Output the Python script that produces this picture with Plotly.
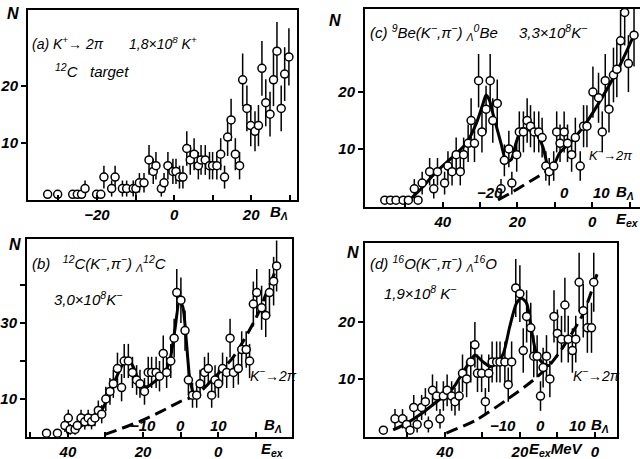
import plotly.graph_objects as go

# ---------------- (a) K+ -> 2pi, 12C target : x = B_Lambda (MeV) ----------------
a_b = [-32.8, -30.2, -26.3, -25.1, -24.0, -23.1, -20.1, -19.0, -18.2, -16.2,
       -15.3, -13.4, -12.3, -10.6, -9.9, -9.0, -7.8, -6.5, -5.4, -4.7,
       -3.3, -2.6, -1.6, -0.3, 0.5, 1.4, 2.3, 3.3, 4.2, 5.2,
       6.3, 7.0, 8.1, 9.2, 10.0, 11.1, 12.1, 13.1, 13.9, 14.8,
       15.9, 17.0, 17.8, 18.9, 19.9, 21.0, 21.9, 22.8, 23.8, 24.9,
       25.8, 26.7, 27.8, 28.7, 29.8]
a_n = [1, 1, 1, 1, 1, 2, 1, 1, 4, 2,
       4, 2, 2, 2, 2, 3, 3, 7, 5, 6,
       2, 3, 6, 5, 5, 4, 4, 9, 7, 8,
       6, 7, 7, 6, 6, 6, 8, 4, 11, 14,
       8, 6, 21, 16, 13, 12, 13, 23, 17, 15,
       21, 26, 16, 22, 25]
a_err = [0, 0, 0, 0, 0, 1.4, 0, 0, 2.0, 1.4,
         2.0, 1.4, 1.4, 1.4, 1.4, 1.7, 1.7, 2.6, 2.2, 2.4,
         1.4, 1.7, 2.4, 2.2, 2.2, 2.0, 2.0, 3.0, 2.6, 2.8,
         2.4, 2.6, 2.6, 2.4, 2.4, 2.4, 2.8, 2.0, 3.3, 3.7,
         2.8, 2.4, 4.6, 4.0, 3.6, 3.5, 3.6, 4.8, 4.1, 3.9,
         4.6, 5.1, 4.0, 4.7, 5.0]

# ---------------- (b) 12C(K-,pi-) : x = E_ex (MeV) ----------------
b_e = [45.7, 42.8, 40.8, 39.9, 39.4, 38.1, 37.5, 36.5, 35.5, 34.6,
       33.7, 32.8, 31.9, 31.0, 29.9, 28.8, 27.9, 26.8, 25.7, 25.0,
       23.9, 22.8, 21.7, 20.8, 19.6, 18.6, 17.7, 16.5, 15.6, 14.6,
       13.7, 12.6, 11.7, 11.0, 9.9, 8.8, 7.9, 6.8, 5.7, 4.8,
       3.6, 2.6, 1.7, 0.8, -0.1, -1.2, -2.3, -3.2, -4.1, -5.4,
       -6.3, -7.5, -8.4, -9.4, -10.3, -11.6, -12.7, -13.7, -14.8, -15.6]
b_n = [1, 1, 3, 5, 2, 2, 3, 5, 4, 5,
       4, 5, 7, 6, 10, 12, 14, 18, 13, 20,
       20, 17, 15, 14, 12, 17, 17, 17, 16, 22,
       17, 20, 26, 38, 36, 28, 15, 11, 11, 14,
       17, 18, 11, 15, 14, 18, 17, 26, 17, 18,
       23, 23, 20, 35, 38, 34, 32, 38, 41, 45]
b_err = [0, 0, 1.7, 2.2, 1.4, 1.4, 1.7, 2.2, 2.0, 2.2,
         2.0, 2.2, 2.6, 2.4, 3.2, 3.5, 3.7, 4.2, 3.6, 4.5,
         4.5, 4.1, 3.9, 3.7, 3.5, 4.1, 4.1, 4.1, 4.0, 4.7,
         4.1, 4.5, 5.1, 6.2, 6.0, 5.3, 3.9, 3.3, 3.3, 3.7,
         4.1, 4.2, 3.3, 3.9, 3.7, 4.2, 4.1, 5.1, 4.1, 4.2,
         4.8, 4.8, 4.5, 5.9, 6.2, 5.8, 5.7, 6.2, 6.4, 6.7]
b_fit_e = [40.4, 36.8, 33.2, 31.0, 28.8, 27.0, 25.2, 23.9, 22.6, 20.8,
           19.0, 16.4, 14.1, 12.8, 11.5, 10.3, 9.4, 8.4, 7.5, 6.6]
b_fit_n = [1.0, 2.7, 4.9, 7.1, 11.5, 15.9, 19.4, 20.3, 18.5, 14.1,
           13.2, 15.0, 17.2, 20.3, 28.2, 35.6, 34.3, 24.6, 15.0, 11.5]
b_bg_e = [30.1, 25.0, 19.9, 15.0, 10.1, 5.7, 1.2, -4.1, -10.3, -13.0, -16.1]
b_bg_n = [0.7, 2.5, 4.5, 6.8, 9.3, 11.1, 15.4, 21.1, 31.7, 38.2, 45.7]

# ---------------- (c) 9Be(K-,pi-) : x = E_ex (MeV) ----------------
c_e = [55.5, 54.0, 52.5, 50.6, 49.2, 47.6, 46.6, 45.5, 43.5, 42.4,
       41.4, 39.5, 38.6, 37.5, 36.4, 35.3, 34.4, 33.2, 32.4, 31.5,
       30.4, 29.5, 28.4, 27.3, 26.6, 25.4, 24.4, 23.5, 22.3, 21.5,
       20.2, 19.5, 18.4, 17.4, 16.5, 15.5, 14.3, 13.4, 12.4, 11.5,
       10.3, 9.5, 8.6, 7.5, 6.6, 5.5, 4.5, 3.2, 2.3, 1.4,
       -0.2, -1.7, -2.7, -3.5, -4.5, -5.7, -6.6, -7.6, -8.7, -9.7,
       -11.2]
c_n = [1, 1, 1, 1, 1, 3, 1, 4, 6, 3,
       6, 4, 7, 6, 9, 6, 9, 11, 15, 11,
       22, 13, 17, 22, 15, 18, 3, 8, 10, 4,
       9, 13, 13, 15, 14, 13, 13, 12, 7, 6,
       7, 13, 11, 13, 11, 9, 12, 7, 14, 14,
       20, 19, 13, 22, 17, 23, 24, 29, 34, 25,
       30]
c_err = [0, 0, 0, 0, 0, 1.7, 0, 2.0, 2.4, 1.7,
         2.4, 2.0, 2.6, 2.4, 3.0, 2.4, 3.0, 3.3, 3.9, 3.3,
         4.7, 3.6, 4.1, 4.7, 3.9, 4.2, 1.7, 2.8, 3.2, 2.0,
         3.0, 3.6, 3.6, 3.9, 3.7, 3.6, 3.6, 3.5, 2.6, 2.4,
         2.6, 3.6, 3.3, 3.6, 3.3, 3.0, 3.5, 2.6, 3.7, 3.7,
         4.5, 4.4, 3.6, 4.7, 4.1, 4.8, 4.9, 5.4, 5.8, 5.0,
         5.5]
c_fit_e = [49.2, 46.1, 41.7, 37.2, 33.7, 31.0, 29.2, 28.4, 27.5, 26.6,
           24.4, 23.0, 21.7, 20.4, 19.5, 18.6, 16.8, 15.0, 13.2, 11.5,
           10.6, 8.8, 5.2, 1.7, -2.8, -7.2, -11.5]
c_fit_n = [0.9, 2.8, 6.0, 8.7, 11.0, 14.5, 18.0, 19.5, 18.6, 16.3,
           11.0, 7.8, 8.1, 11.0, 12.7, 13.6, 13.3, 12.7, 10.4, 6.3,
           6.6, 9.2, 11.6, 14.5, 19.2, 24.4, 30.5]
c_bg_e = [25.2, 21.2, 15.9, 11.5]
c_bg_n = [1.05, 2.5, 4.6, 6.3]

# ---------------- (d) 16O(K-,pi-) : x = E_ex (MeV) ----------------
d_e = [56.4, 53.3, 51.3, 50.2, 49.3, 48.3, 47.4, 46.2, 45.2, 44.4,
       43.3, 42.2, 41.3, 40.4, 39.4, 38.2, 37.3, 36.2, 35.3, 34.2,
       33.1, 32.0, 31.3, 30.2, 29.2, 28.3, 27.4, 26.2, 25.3, 24.0,
       23.1, 22.2, 21.1, 20.0, 19.1, 18.2, 17.1, 16.3, 15.4, 14.5,
       13.8, 12.9, 12.0, 10.9, 10.0, 8.9, 8.0, 7.1, 6.0, 5.1,
       4.2, 3.1, 2.0, 0.9, 0.3]
d_n = [1, 3, 3, 2, 1, 5, 2, 5, 6, 2,
       8, 7, 3, 7, 8, 7, 6, 7, 11, 10,
       13, 16, 11, 11, 6, 11, 13, 13, 13, 13,
       9, 13, 26, 25, 15, 21, 19, 14, 14, 7,
       12, 14, 10, 21, 18, 17, 23, 17, 15, 17,
       27, 22, 19, 19, 27]
d_err = [0, 1.7, 1.7, 1.4, 0, 2.2, 1.4, 2.2, 2.4, 1.4,
         2.8, 2.6, 1.7, 2.6, 2.8, 2.6, 2.4, 2.6, 3.3, 3.2,
         3.6, 4.0, 3.3, 3.3, 2.4, 3.3, 3.6, 3.6, 3.6, 3.6,
         3.0, 3.6, 5.1, 5.0, 3.9, 4.6, 4.4, 3.7, 3.7, 2.6,
         3.5, 3.7, 3.2, 4.6, 4.2, 4.1, 4.8, 4.1, 3.9, 4.1,
         5.2, 4.7, 4.4, 4.4, 5.2]
d_fit_e = [53.8, 50.2, 46.7, 42.2, 37.8, 35.1, 33.3, 32.0, 29.8, 28.0,
           26.2, 24.4, 22.7, 20.9, 19.6, 18.2, 16.9, 15.6, 13.8, 12.0]
d_fit_n = [1.05, 2.2, 3.7, 6.0, 8.4, 11.3, 13.0, 14.2, 13.0, 12.2,
           12.7, 14.5, 19.2, 23.3, 24.2, 23.3, 18.6, 14.5, 12.7, 12.3]
d_bg_e = [39.6, 31.6, 23.6, 16.4, 12.0, 8.4, 3.1, -0.9]
d_bg_n = [0.5, 2.8, 6.3, 9.8, 12.5, 15.7, 21.5, 29.1]

# B_Lambda = shift - E_ex for each hypernucleus
b_shift, c_shift, d_shift = 10.0, 7.4, 14.6

W, H = 640, 459
FAM = "Liberation Sans"


def fx(px):
    return px / W


def fy(py):
    return 1 - py / H


fig = go.Figure()


def points(x, n, err, ax):
    fig.add_trace(go.Scatter(
        x=x, y=n, mode="markers", xaxis="x" + ax, yaxis="y" + ax,
        showlegend=False, cliponaxis=False,
        marker=dict(symbol="circle", size=8, color="white",
                    line=dict(color="black", width=1.5)),
        error_y=dict(type="data", array=err, visible=True, thickness=1.5,
                     width=0, color="black")))


def curve(x, n, ax, dash="solid", width=3):
    fig.add_trace(go.Scatter(
        x=x, y=n, mode="lines", xaxis="x" + ax, yaxis="y" + ax,
        showlegend=False, cliponaxis=False,
        line=dict(color="black", width=width, dash=dash, shape="spline",
                  smoothing=0.7)))


# curves first so the open circles sit on top
curve(b_fit_e, b_fit_n, "3")
curve(b_bg_e, b_bg_n, "3", dash="12px,6px")
curve(c_fit_e, c_fit_n, "2")
curve(c_bg_e, c_bg_n, "2", dash="12px,6px")
curve(d_fit_e, d_fit_n, "4")
curve(d_bg_e, d_bg_n, "4", dash="12px,6px")

points(a_b, a_n, a_err, "")
points(c_e, c_n, c_err, "2")
points(b_e, b_n, b_err, "3")
points(d_e, d_n, d_err, "4")

tickfont = dict(family=FAM, size=15, color="black", weight="bold", style="italic")


def xax(domain, rng, vals, texts, anchor, mirror=True):
    return dict(domain=domain, range=rng, anchor=anchor, showgrid=False,
                zeroline=False, showline=True, linecolor="black", linewidth=2,
                mirror=mirror, ticks="inside", ticklen=5, tickwidth=1.5,
                tickcolor="black", tickvals=vals, ticktext=texts,
                tickfont=tickfont)


def yax(domain, rng, vals, texts, anchor, mirror=True):
    return dict(domain=domain, range=rng, anchor=anchor, showgrid=False,
                zeroline=False, showline=True, linecolor="black", linewidth=2,
                mirror=mirror, ticks="outside", ticklen=5, tickwidth=1.5,
                tickcolor="black", tickvals=vals, ticktext=texts,
                tickfont=tickfont)


ex_vals = [50, 40, 30, 20, 10, 0, -10]
ex_text = ["", "40", "", "20", "", "0", ""]

fig.update_layout(
    width=W, height=H, margin=dict(l=0, r=0, t=0, b=0),
    paper_bgcolor="white", plot_bgcolor="white",
    # (a)
    xaxis=xax([fx(28), fx(297)], [-37.9, 31.9],
              [-30, -20, -10, 0, 10, 20, 30],
              ["", "\u221220", "", "0", "", "20", ""], "y"),
    yaxis=yax([fy(200), fy(10)], [0, 33.2], [10, 20], ["10", "20"], "x"),
    # (c)
    xaxis2=xax([fx(365), 1.0], [60.8, -12.8], ex_vals, ex_text, "y2"),
    yaxis2=yax([fy(207), fy(9)], [-0.2, 34.6], [10, 20], ["10", "20"], "x2",
               mirror=False),
    # (b)
    xaxis3=xax([fx(27), fx(292)], [50.9, -19.7], ex_vals, ex_text, "y3"),
    yaxis3=yax([fy(437), fy(239)], [0, 52.1], [10, 20, 30, 40],
               ["10", "", "30", ""], "x3"),
    # (d)
    xaxis4=xax([fx(365), fx(617)], [61.3, -5.9], ex_vals, ex_text, "y4"),
    yaxis4=yax([fy(437), fy(243)], [-0.2, 33.9], [10, 20], ["10", "20"], "x4"),
)

ann = []


def txt(px, py, s, size=14, anchor="left", bold=False):
    ann.append(dict(x=fx(px), y=fy(py), xref="paper", yref="paper", text=s,
                    showarrow=False, xanchor=anchor, yanchor="middle",
                    font=dict(family=FAM, size=size, color="black",
                              style="italic",
                              weight="bold" if bold else "normal")))


def btick(ax, e, py, s):
    ann.append(dict(x=e, y=fy(py), xref="x" + ax, yref="paper", text=s,
                    showarrow=False, xanchor="center", yanchor="middle",
                    font=tickfont))


# axis names
for px, py in [(13, 14), (15, 245), (335, 20), (353, 253)]:
    txt(px, py, "N", size=16, anchor="center", bold=True)

BL = "B<sub>\u039b</sub>"
EX = "E<sub>ex</sub>"

# (a)
txt(30, 43, "(a) K<sup>+</sup>\u2192 2\u03c0")
txt(127, 43, "1,8\u00d710<sup>8</sup> K<sup>+</sup>")
txt(53, 71, "<sup>12</sup>C   target", size=15)
txt(268, 212, BL, size=15, bold=True)

# (b)
txt(30, 263, "(b)   <sup>12</sup>C(K<sup>\u2212</sup>,\u03c0<sup>\u2212</sup>) <sub>\u039b</sub><sup>12</sup>C", size=15)
txt(52, 298, "3,0\u00d710<sup>8</sup>K<sup>\u2212</sup>", size=15)
txt(248, 375, "K<sup>\u2212</sup>\u21922\u03c0")
for bv, s in [(-10, "\u221210"), (0, "0"), (10, "10")]:
    btick("3", b_shift - bv, 425, s)
txt(262, 425, BL, size=15, bold=True)
txt(259, 449, EX, size=15, bold=True)

# (c)
txt(368, 32, "(c) <sup>9</sup>Be(K<sup>\u2212</sup>,\u03c0<sup>\u2212</sup>) <sub>\u039b</sub><sup>0</sup>Be", size=15)
txt(517, 31, "3,3\u00d710<sup>8</sup>K<sup>\u2212</sup>", size=15)
txt(634, 155, "K<sup>\u2212</sup>\u21922\u03c0", size=13, anchor="right")
for bv, s in [(-20, "\u221220"), (0, "0"), (10, "10")]:
    btick("2", c_shift - bv, 192, s)
txt(614, 192, BL, size=15, bold=True)
txt(614, 219, EX, size=15, bold=True)

# (d)
txt(368, 263, "(d) <sup>16</sup>O(K<sup>\u2212</sup>,\u03c0<sup>\u2212</sup>) <sub>\u039b</sub><sup>16</sup>O", size=15)
txt(382, 292, "1,9\u00d710<sup>8</sup> K<sup>\u2212</sup>", size=15)
txt(571, 375, "K<sup>\u2212</sup>\u21922\u03c0")
for bv, s in [(-10, "\u221210"), (0, "0"), (10, "10")]:
    btick("4", d_shift - bv, 425, s)
txt(589, 425, BL, size=15, bold=True)
txt(527, 449, EX + "MeV", size=15, bold=True)

fig.update_layout(annotations=ann)
fig.write_html("out.html")
